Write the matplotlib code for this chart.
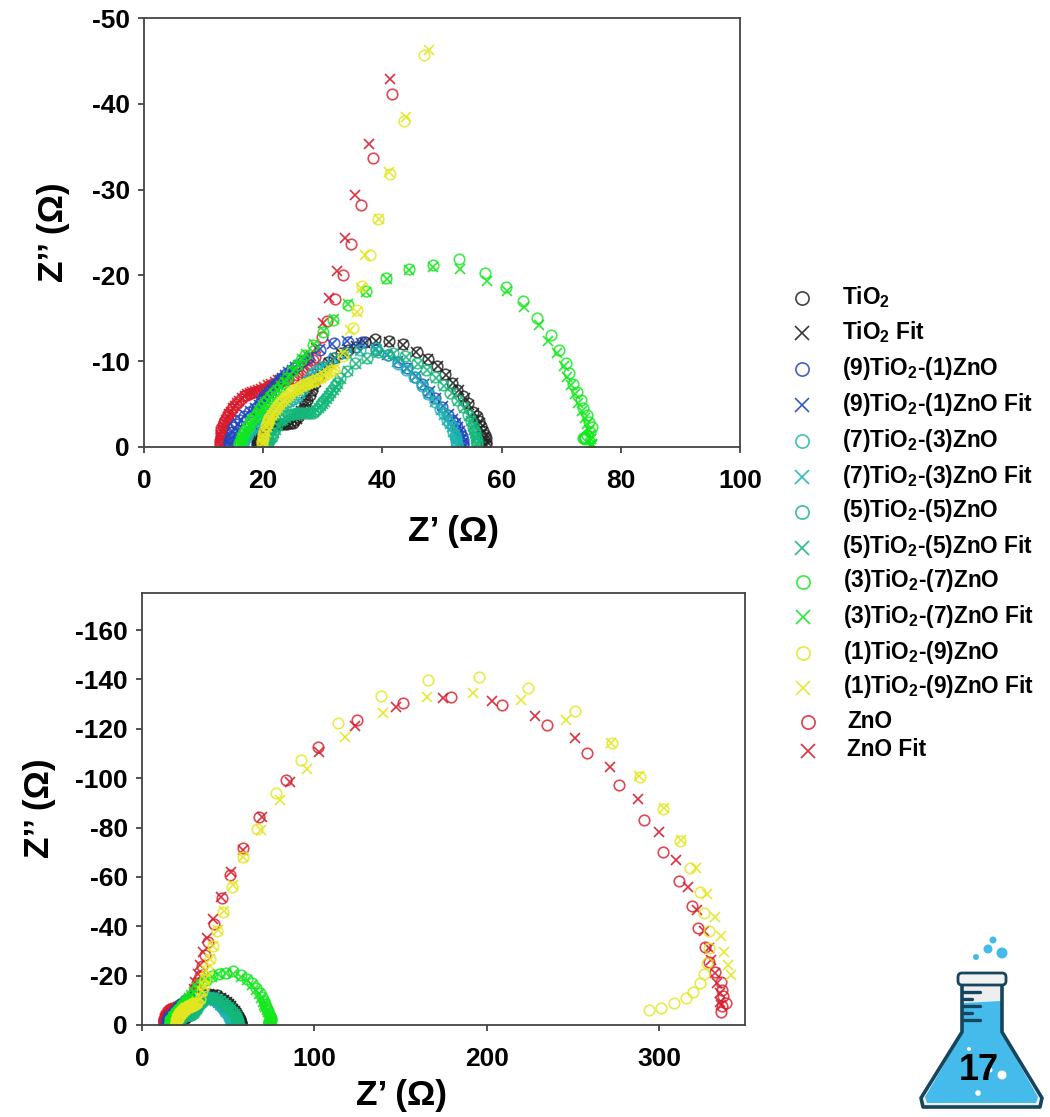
import matplotlib
matplotlib.use("Agg")
import matplotlib.pyplot as plt
from matplotlib.patches import Circle, FancyBboxPatch, Polygon

plt.rcParams['font.family'] = ['Liberation Sans', 'DejaVu Sans']
plt.rcParams['font.weight'] = 'bold'
plt.rcParams['axes.unicode_minus'] = False
plt.rcParams['mathtext.fontset'] = 'custom'
plt.rcParams['mathtext.bf'] = 'Liberation Sans:bold'
plt.rcParams['mathtext.rm'] = 'Liberation Sans:bold'

# valori: coppie (Z', -Z'') in ohm
tio2 = [(18.9, 0.2), (18.9, 0.5), (19.0, 0.8), (19.1, 1.1), (19.3, 1.4), (19.6, 1.6), (19.9, 1.9), (20.3, 2.1), (20.7, 2.3), (21.1, 2.4), (21.5, 2.5), (22.0, 2.6), (22.5, 2.6), (23.0, 2.7), (23.5, 2.7), (24.0, 2.7), (24.5, 2.8), (25.0, 2.8), (25.4, 3.1), (25.8, 3.5), (26.2, 4.0), (26.6, 4.4), (27.0, 5.0), (27.4, 5.5), (27.8, 6.1), (28.2, 6.7), (28.6, 7.3), (29.2, 8.2), (30.0, 9.3), (30.9, 9.9), (31.9, 10.4), (33.0, 10.9), (34.2, 11.3), (35.5, 11.7), (37.0, 12.2), (38.8, 12.6), (41.1, 12.3), (43.5, 12.0), (45.8, 11.1), (47.7, 10.3), (49.2, 9.4), (50.5, 8.5), (51.6, 7.5), (52.6, 6.6), (53.5, 5.9), (54.4, 5.1), (55.2, 4.1), (55.8, 3.6), (56.2, 3.0), (56.6, 2.4), (56.9, 1.9), (57.2, 1.4), (57.4, 1.0), (57.4, 0.6), (57.3, 0.3)]
tio2_fit = [(19.0, 0.1), (19.0, 0.4), (19.1, 0.7), (19.2, 1.0), (19.4, 1.3), (19.7, 1.6), (20.0, 1.8), (20.4, 2.0), (20.8, 2.2), (21.2, 2.4), (21.7, 2.5), (22.2, 2.6), (22.7, 2.6), (23.2, 2.6), (23.7, 2.7), (24.2, 2.7), (24.7, 2.8), (25.2, 3.0), (25.6, 3.3), (26.0, 3.7), (26.4, 4.2), (26.8, 4.7), (27.2, 5.2), (27.6, 5.8), (28.0, 6.4), (28.4, 7.0), (28.8, 7.6), (29.5, 8.5), (30.2, 9.2), (31.1, 9.8), (32.0, 10.4), (33.1, 10.9), (34.3, 11.4), (35.6, 11.8), (37.1, 12.1), (38.9, 12.4), (41.1, 12.2), (43.4, 11.9), (45.7, 11.1), (47.6, 10.3), (49.3, 9.4), (50.6, 8.4), (51.8, 7.5), (52.9, 6.6), (53.8, 5.7), (54.6, 4.9), (55.4, 4.0), (55.9, 3.4), (56.3, 2.8), (56.6, 2.2), (56.9, 1.7), (57.1, 1.2), (57.2, 0.8), (57.2, 0.4), (57.2, 0.1)]

znt91 = [(14.3, 0.3), (14.3, 0.6), (14.4, 0.9), (14.6, 1.2), (14.8, 1.8), (15.0, 2.3), (15.5, 2.7), (16.1, 3.1), (16.8, 3.6), (17.6, 4.1), (18.4, 4.4), (19.0, 4.7), (19.4, 5.1), (19.8, 5.5), (20.2, 5.9), (20.7, 6.2), (21.2, 6.6), (21.7, 7.0), (22.1, 7.3), (22.5, 7.6), (22.9, 7.9), (23.3, 8.2), (23.9, 8.5), (24.5, 8.8), (25.1, 9.2), (25.7, 9.5), (26.6, 10.0), (27.5, 10.4), (29.5, 11.3), (31.8, 12.1), (34.2, 12.2), (36.5, 12.2), (39.0, 11.3), (40.9, 10.7), (42.7, 9.9), (44.1, 9.2), (45.5, 8.2), (46.6, 7.4), (47.7, 6.4), (48.8, 5.7), (50.0, 4.7), (51.0, 3.7), (51.6, 3.2), (52.2, 2.8), (52.6, 2.3), (53.0, 1.8), (53.3, 1.3), (53.5, 0.8), (53.5, 0.5), (53.5, 0.2)]
znt91_fit = [(14.4, 0.2), (14.4, 0.5), (14.5, 0.8), (14.7, 1.2), (14.9, 1.7), (15.2, 2.2), (15.7, 2.7), (16.3, 3.2), (17.0, 3.7), (17.8, 4.2), (18.6, 4.5), (19.3, 4.9), (19.7, 5.3), (20.1, 5.6), (20.5, 6.0), (21.0, 6.3), (21.5, 6.7), (22.0, 7.1), (22.4, 7.4), (22.8, 7.8), (23.2, 8.1), (23.7, 8.4), (24.2, 8.7), (24.8, 9.0), (25.4, 9.3), (26.0, 9.6), (26.8, 10.1), (27.7, 10.5), (29.6, 11.4), (31.6, 12.0), (34.0, 12.3), (36.4, 12.1), (38.9, 11.4), (40.8, 10.7), (42.6, 10.0), (44.2, 9.2), (45.7, 8.3), (46.9, 7.4), (48.0, 6.5), (49.0, 5.7), (50.2, 4.8), (51.2, 3.8), (51.8, 3.3), (52.3, 2.8), (52.7, 2.3), (53.0, 1.9), (53.2, 1.4), (53.4, 0.9), (53.5, 0.5), (53.5, 0.1)]

znt73 = [(16.6, 0.3), (16.6, 0.6), (16.8, 0.9), (17.0, 1.2), (17.2, 1.4), (17.5, 1.7), (17.8, 1.9), (18.2, 2.1), (18.6, 2.3), (19.0, 2.6), (19.3, 2.9), (19.7, 3.2), (20.0, 3.4), (20.4, 3.6), (20.8, 3.8), (21.2, 4.0), (21.7, 4.3), (22.2, 4.5), (22.6, 4.7), (23.0, 4.9), (23.5, 5.0), (24.0, 5.2), (24.5, 5.4), (25.0, 5.6), (25.6, 5.8), (26.0, 6.2), (26.5, 6.6), (27.0, 7.1), (27.4, 7.6), (27.9, 8.1), (28.3, 8.6), (29.2, 9.0), (30.0, 9.3), (31.7, 10.4), (33.9, 10.9), (36.2, 11.3), (39.0, 11.5), (40.9, 10.7), (42.7, 9.7), (44.0, 9.0), (45.3, 8.2), (46.7, 7.1), (47.7, 6.2), (48.8, 5.2), (49.7, 4.4), (50.3, 3.8), (50.8, 3.2), (51.2, 2.8), (51.6, 2.4), (51.9, 1.8), (52.1, 1.3), (52.3, 1.0), (52.4, 0.7), (52.5, 0.4), (52.5, 0.2)]
znt73_fit = [(16.7, 0.2), (16.7, 0.5), (16.9, 0.8), (17.1, 1.1), (17.4, 1.4), (17.7, 1.6), (18.0, 1.9), (18.4, 2.1), (18.8, 2.4), (19.2, 2.7), (19.5, 3.0), (19.9, 3.2), (20.2, 3.4), (20.6, 3.7), (21.0, 3.9), (21.4, 4.1), (21.9, 4.3), (22.4, 4.6), (22.8, 4.8), (23.3, 5.0), (23.8, 5.1), (24.3, 5.3), (24.8, 5.5), (25.3, 5.7), (25.8, 5.9), (26.2, 6.3), (26.7, 6.8), (27.2, 7.3), (27.6, 7.7), (28.1, 8.2), (28.5, 8.6), (29.4, 9.1), (30.2, 9.4), (31.8, 10.3), (34.0, 10.8), (36.3, 11.2), (38.9, 11.4), (40.8, 10.8), (42.5, 9.9), (44.1, 9.1), (45.5, 8.2), (46.8, 7.2), (47.9, 6.2), (48.9, 5.2), (49.9, 4.3), (50.4, 3.7), (50.9, 3.2), (51.3, 2.7), (51.6, 2.3), (51.9, 1.8), (52.1, 1.4), (52.3, 1.0), (52.4, 0.7), (52.5, 0.4), (52.5, 0.1)]

znt55 = [(20.7, 0.2), (20.8, 0.5), (20.9, 0.7), (21.1, 1.0), (21.4, 1.2), (21.6, 1.6), (21.9, 2.1), (22.3, 2.6), (22.8, 3.1), (23.2, 3.3), (23.7, 3.5), (24.2, 3.7), (24.6, 3.8), (25.1, 3.9), (25.6, 4.0), (26.0, 4.0), (26.5, 4.0), (27.0, 4.0), (27.5, 4.0), (27.9, 4.0), (28.3, 4.0), (28.7, 4.2), (29.1, 4.4), (29.5, 4.8), (29.8, 5.1), (30.1, 5.4), (30.5, 5.7), (30.8, 6.0), (31.2, 6.3), (31.6, 6.7), (32.0, 7.1), (32.4, 7.5), (32.9, 8.0), (34.1, 8.9), (35.4, 9.8), (37.4, 10.4), (39.3, 11.1), (41.8, 10.9), (43.8, 10.6), (45.8, 9.8), (47.3, 9.0), (48.8, 8.2), (50.2, 7.2), (51.3, 6.3), (52.5, 5.5), (53.5, 4.7), (54.4, 3.7), (54.8, 3.0), (55.2, 2.3), (55.4, 2.0), (55.6, 1.7), (55.7, 1.2), (55.8, 0.8), (55.8, 0.5), (55.8, 0.3)]
znt55_fit = [(20.8, 0.1), (20.9, 0.4), (21.0, 0.6), (21.2, 0.9), (21.5, 1.2), (21.8, 1.6), (22.1, 2.0), (22.5, 2.5), (23.0, 3.0), (23.4, 3.2), (23.9, 3.4), (24.3, 3.6), (24.8, 3.7), (25.3, 3.8), (25.8, 3.9), (26.2, 4.0), (26.7, 4.0), (27.1, 4.0), (27.6, 4.0), (28.1, 4.0), (28.5, 4.1), (28.9, 4.3), (29.3, 4.5), (29.7, 4.8), (30.0, 5.0), (30.3, 5.3), (30.7, 5.6), (31.0, 5.9), (31.4, 6.3), (31.8, 6.6), (32.2, 7.0), (32.6, 7.4), (33.1, 7.9), (34.2, 8.8), (35.5, 9.7), (37.4, 10.3), (39.2, 10.9), (41.7, 10.8), (43.9, 10.5), (45.9, 9.7), (47.5, 9.0), (49.0, 8.1), (50.4, 7.1), (51.6, 6.3), (52.7, 5.4), (53.7, 4.6), (54.6, 3.6), (54.9, 3.0), (55.2, 2.4), (55.4, 2.0), (55.6, 1.6), (55.7, 1.2), (55.7, 0.9), (55.8, 0.5), (55.8, 0.2)]

znt37 = [(16.0, 0.2), (16.0, 0.5), (16.2, 0.8), (16.4, 1.2), (16.6, 1.5), (16.9, 1.9), (17.2, 2.3), (17.6, 2.7), (18.0, 3.1), (18.4, 3.5), (18.9, 3.9), (19.3, 4.3), (19.7, 4.7), (20.1, 5.1), (20.6, 5.5), (21.1, 5.9), (21.6, 6.3), (22.2, 6.7), (22.8, 7.0), (23.4, 7.5), (24.0, 8.1), (24.8, 8.8), (25.6, 9.5), (26.3, 10.1), (27.0, 10.7), (28.4, 11.9), (30.0, 13.4), (31.7, 14.8), (34.2, 16.6), (37.2, 18.2), (40.6, 19.7), (44.5, 20.7), (48.5, 21.2), (52.9, 21.9), (57.2, 20.3), (60.7, 18.7), (63.6, 17.0), (66.0, 15.0), (68.3, 13.0), (69.6, 11.3), (70.8, 9.8), (71.3, 8.6), (72.0, 7.4), (72.6, 6.4), (73.3, 5.5), (73.7, 4.5), (74.3, 3.7), (74.7, 2.9), (75.1, 2.3), (74.9, 1.8), (74.4, 1.4), (74.0, 1.2), (73.7, 1.0), (74.0, 0.9), (73.8, 1.1)]
znt37_fit = [(16.1, 0.1), (16.1, 0.4), (16.3, 0.7), (16.5, 1.1), (16.8, 1.4), (17.1, 1.8), (17.4, 2.2), (17.8, 2.6), (18.2, 3.1), (18.6, 3.4), (19.1, 3.8), (19.5, 4.2), (19.9, 4.6), (20.3, 5.0), (20.8, 5.4), (21.3, 5.8), (21.8, 6.2), (22.4, 6.6), (23.0, 7.1), (23.6, 7.6), (24.2, 8.2), (25.0, 8.9), (25.8, 9.6), (26.5, 10.2), (27.2, 10.8), (28.6, 12.0), (30.2, 13.5), (31.9, 14.9), (34.2, 16.7), (37.3, 18.1), (40.7, 19.6), (44.4, 20.6), (48.5, 21.0), (53.1, 20.7), (57.5, 19.4), (60.9, 18.2), (63.8, 16.3), (66.2, 14.2), (67.8, 12.4), (69.3, 10.9), (70.4, 9.4), (71.0, 8.2), (71.6, 7.2), (72.3, 6.2), (72.9, 5.1), (73.5, 4.2), (74.0, 3.4), (74.4, 2.7), (74.7, 2.0), (74.9, 1.4), (75.0, 0.9), (75.1, 0.4), (74.9, 0.2), (75.0, 0.1), (75.1, 0.2)]

znt19 = [(19.8, 0.4), (19.8, 0.7), (19.9, 1.0), (20.0, 1.4), (20.2, 1.9), (20.4, 2.4), (20.6, 2.8), (20.8, 3.1), (21.0, 3.4), (21.3, 3.7), (21.6, 4.0), (21.9, 4.4), (22.3, 4.7), (22.6, 5.0), (23.0, 5.2), (23.4, 5.5), (23.7, 5.8), (24.1, 6.0), (24.5, 6.3), (24.9, 6.5), (25.4, 6.7), (25.8, 6.9), (26.3, 7.1), (26.8, 7.3), (27.3, 7.4), (27.8, 7.6), (28.3, 7.7), (28.9, 7.8), (29.5, 8.0), (30.0, 8.3), (30.6, 8.5), (31.2, 8.8), (31.8, 9.0), (33.4, 10.6), (35.0, 13.9), (35.8, 16.0), (36.6, 18.8), (37.9, 22.4), (39.3, 26.6), (41.2, 31.8), (43.7, 38.0), (47.0, 45.7), (52.0, 55.9), (58.4, 68.0), (66.5, 79.4), (77.5, 93.9), (92.5, 107.3), (113.9, 122.3), (138.7, 133.2), (165.9, 139.7), (195.4, 140.9), (224.3, 136.4), (251.4, 127.1), (272.8, 114.2), (289.0, 100.4), (302.3, 87.4), (312.0, 74.5), (318.0, 63.6), (323.7, 53.8), (326.4, 45.3), (328.9, 38.0), (329.0, 31.0), (327.8, 25.0), (326.2, 20.6), (323.6, 17.0), (319.8, 13.4), (315.7, 10.9), (308.6, 8.9), (301.4, 6.9), (294.2, 6.0)]
znt19_fit = [(19.9, 0.3), (19.9, 0.6), (20.0, 0.9), (20.2, 1.3), (20.4, 1.8), (20.6, 2.3), (20.8, 2.7), (21.0, 3.0), (21.2, 3.3), (21.5, 3.7), (21.8, 4.0), (22.1, 4.3), (22.5, 4.6), (22.8, 4.9), (23.2, 5.2), (23.6, 5.4), (23.9, 5.7), (24.3, 6.0), (24.7, 6.2), (25.1, 6.4), (25.6, 6.7), (26.0, 6.8), (26.5, 7.0), (27.0, 7.2), (27.5, 7.3), (28.0, 7.5), (28.5, 7.6), (29.1, 7.9), (29.7, 8.1), (30.2, 8.4), (30.8, 8.6), (31.4, 9.0), (32.0, 9.2), (33.4, 10.9), (34.6, 13.6), (35.7, 15.7), (36.4, 18.5), (37.0, 22.4), (39.4, 26.6), (41.1, 32.0), (44.0, 38.5), (47.8, 46.3), (52.6, 56.7), (58.4, 68.0), (68.8, 79.0), (80.3, 91.0), (96.0, 103.6), (117.9, 116.6), (139.9, 126.3), (165.3, 132.8), (191.9, 134.4), (219.7, 131.6), (246.2, 123.5), (272.3, 114.2), (288.5, 100.8), (302.9, 87.9), (312.9, 74.9), (321.4, 63.6), (327.8, 53.0), (332.4, 43.7), (335.8, 36.0), (338.1, 29.6), (339.9, 24.3), (341.6, 20.2)]

zno = [(12.8, 0.2), (12.8, 0.5), (12.8, 0.8), (12.9, 1.2), (12.9, 1.5), (13.0, 1.9), (13.0, 2.2), (13.2, 2.6), (13.4, 2.9), (13.6, 3.2), (13.9, 3.5), (14.1, 3.8), (14.4, 4.1), (14.7, 4.4), (15.0, 4.7), (15.4, 5.0), (15.8, 5.3), (16.2, 5.6), (16.7, 5.9), (17.1, 6.1), (17.6, 6.2), (18.0, 6.3), (18.5, 6.4), (19.0, 6.5), (19.5, 6.6), (20.0, 6.8), (20.6, 7.0), (21.1, 7.2), (21.7, 7.4), (22.3, 7.5), (22.9, 7.6), (23.5, 7.8), (24.2, 7.9), (25.0, 8.1), (25.7, 8.4), (26.5, 8.7), (27.3, 9.0), (27.9, 9.6), (28.4, 10.1), (28.7, 10.5), (29.9, 12.8), (30.7, 14.7), (32.0, 17.2), (33.4, 20.0), (34.7, 23.7), (36.4, 28.2), (38.4, 33.7), (41.6, 41.1), (46.2, 51.4), (50.9, 60.7), (58.4, 71.7), (68.2, 84.2), (83.8, 99.2), (102.3, 112.5), (124.9, 123.5), (151.4, 130.4), (179.2, 133.0), (208.7, 129.6), (235.3, 121.5), (258.4, 110.0), (276.9, 97.2), (291.3, 83.0), (302.3, 70.0), (311.6, 58.3), (319.0, 48.2), (322.5, 39.3), (326.6, 31.6), (328.9, 25.5), (332.4, 21.5), (335.8, 17.4), (336.4, 14.2), (337.0, 11.7), (338.7, 8.9), (336.5, 7.5), (335.8, 5.3)]
zno_fit = [(12.9, 0.1), (12.9, 0.4), (12.9, 0.7), (13.0, 1.0), (13.0, 1.4), (13.1, 1.8), (13.2, 2.1), (13.4, 2.5), (13.6, 2.8), (13.8, 3.1), (14.1, 3.5), (14.3, 3.8), (14.6, 4.1), (14.9, 4.5), (15.2, 4.8), (15.6, 5.1), (16.0, 5.4), (16.4, 5.7), (16.9, 6.0), (17.3, 6.2), (17.8, 6.3), (18.2, 6.4), (18.7, 6.5), (19.2, 6.7), (19.7, 6.8), (20.2, 7.0), (20.8, 7.2), (21.3, 7.4), (21.9, 7.6), (22.5, 7.8), (23.1, 7.9), (23.7, 8.1), (24.4, 8.2), (25.1, 8.4), (25.9, 8.7), (26.5, 9.1), (27.0, 9.5), (27.6, 10.1), (28.1, 10.6), (28.9, 11.5), (30.0, 14.5), (31.0, 17.4), (32.4, 20.5), (33.7, 24.4), (35.4, 29.4), (37.8, 35.3), (41.3, 42.9), (46.0, 52.0), (51.5, 62.0), (58.4, 70.9), (69.4, 84.2), (86.0, 98.5), (102.9, 110.5), (123.7, 121.0), (147.4, 129.0), (174.6, 132.4), (202.9, 131.2), (228.3, 125.0), (251.4, 116.2), (271.7, 104.5), (287.9, 91.5), (300.0, 78.0), (309.8, 66.8), (316.8, 55.9), (322.0, 46.6), (326.0, 38.0), (329.0, 31.2), (330.0, 26.3), (332.4, 21.0), (334.0, 17.0), (335.2, 13.0), (335.2, 9.3), (336.0, 8.0)]

labels = [r"TiO$\mathbf{_2}$", r"TiO$\mathbf{_2}$ Fit",
          r"(9)TiO$\mathbf{_2}$-(1)ZnO", r"(9)TiO$\mathbf{_2}$-(1)ZnO Fit",
          r"(7)TiO$\mathbf{_2}$-(3)ZnO", r"(7)TiO$\mathbf{_2}$-(3)ZnO Fit",
          r"(5)TiO$\mathbf{_2}$-(5)ZnO", r"(5)TiO$\mathbf{_2}$-(5)ZnO Fit",
          r"(3)TiO$\mathbf{_2}$-(7)ZnO", r"(3)TiO$\mathbf{_2}$-(7)ZnO Fit",
          r"(1)TiO$\mathbf{_2}$-(9)ZnO", r"(1)TiO$\mathbf{_2}$-(9)ZnO Fit",
          "ZnO", "ZnO Fit"]
colors = ["#222222", "#1F45C0", "#1DB5B0", "#14B87A", "#12E81C", "#E3E620", "#D81B2C"]

top_xticks = [0, 20, 40, 60, 80, 100]
top_yticks = [0, -10, -20, -30, -40, -50]
bot_xticks = [0, 100, 200, 300]
bot_yticks = [0, -20, -40, -60, -80, -100, -120, -140, -160]

# ordine di disegno: (colore, misura, fit)
series = [
    (colors[6], zno, zno_fit),
    (colors[0], tio2, tio2_fit),
    (colors[1], znt91, znt91_fit),
    (colors[2], znt73, znt73_fit),
    (colors[3], znt55, znt55_fit),
    (colors[4], znt37, znt37_fit),
    (colors[5], znt19, znt19_fit),
]

W, H = 1050, 1117
fig = plt.figure(figsize=(W / 100, H / 100), dpi=100)


def box(left, top, right, bottom):
    return [left / W, 1 - bottom / H, (right - left) / W, (bottom - top) / H]


def draw_panel(ax, xlim, ylim, xticks, yticks):
    for col, meas, fit in series:
        ax.plot([p[0] for p in meas], [-p[1] for p in meas], 'o', mfc='none', mec=col, ms=7.6, mew=1.2, alpha=0.8)
        ax.plot([p[0] for p in fit], [-p[1] for p in fit], 'x', color=col, ms=7.6, mew=1.2, alpha=0.9)
    ax.set_xlim(xlim)
    ax.set_ylim(ylim)
    ax.set_xticks(xticks)
    ax.set_yticks(yticks)
    ax.tick_params(length=4, width=1.3, color='#444444', labelsize=19)
    ax.tick_params(axis='x', pad=12)
    ax.tick_params(axis='y', pad=6)
    for s in ax.spines.values():
        s.set_color('#444444')
        s.set_linewidth(1.3)


ax1 = fig.add_axes(box(144, 18, 740, 447))
draw_panel(ax1, (0, 100), (0, -50), top_xticks, top_yticks)
ax2 = fig.add_axes(box(142, 593, 745, 1025))
draw_panel(ax2, (0, 350), (0, -175), bot_xticks, bot_yticks)

# etichette assi
fig.text(453 / W, 1 - 532 / H, "Z’ (Ω)", fontsize=25.5, ha='center', va='center')
fig.text(53 / W, 1 - 232 / H, "Z’’ (Ω)", fontsize=25.5, ha='center', va='center', rotation=90)
fig.text(402 / W, 1 - 1096 / H, "Z’ (Ω)", fontsize=25.5, ha='center', va='center')
fig.text(40 / W, 1 - 808 / H, "Z’’ (Ω)", fontsize=25.5, ha='center', va='center', rotation=90)

# sovrapposizione in pixel per legenda e beuta
over = fig.add_axes([0, 0, 1, 1], facecolor='none')
over.set_xlim(0, W)
over.set_ylim(H, 0)
over.axis('off')

leg_y = [298, 333, 369, 405, 441, 477, 512, 548, 582, 617, 653, 688, 722, 751]
leg_mx = [802] * 8 + [803] * 4 + [808] * 2
leg_tx = [842] * 8 + [843] * 4 + [847] * 2
leg_col = [c for c in colors for _ in (0, 1)]
for i, lab in enumerate(labels):
    if i % 2 == 0:
        over.plot(leg_mx[i], leg_y[i], 'o', mfc='none', mec=leg_col[i], ms=9.5, mew=1.2, alpha=0.85)
    else:
        over.plot(leg_mx[i], leg_y[i], 'x', color=leg_col[i], ms=9.5, mew=1.2, alpha=0.9)
    over.text(leg_tx[i], leg_y[i] - 1, lab, fontsize=16.3, va='center', ha='left')

# beuta
blue = '#45BBEB'
dark = '#17455E'
body = [(962, 984), (1002, 984), (1002, 1032), (1042, 1098), (1040, 1107), (923, 1107), (921, 1098), (962, 1032)]
over.add_patch(Polygon(body, closed=True, fc='#EEEEEE', ec='none'))
liquid = [(963, 1003), (1001, 1001), (1001, 1032), (1038, 1097), (1036, 1103), (927, 1103), (925, 1097), (963, 1032)]
over.add_patch(Polygon(liquid, closed=True, fc=blue, ec='none'))
over.add_patch(Polygon(body, closed=True, fc='none', ec=dark, lw=2.6, joinstyle='round'))
over.add_patch(FancyBboxPatch((960, 975), 44, 8, boxstyle='round,pad=2,rounding_size=4', fc='#F2F2F2', ec=dark, lw=2))
for y0, x1 in [(992, 980), (999, 972), (1006, 980), (1013, 972), (1020, 980)]:
    over.plot([962, x1], [y0, y0], color=dark, lw=2.4, solid_capstyle='round')
for cx, cy, r, col in [(993, 940, 3.5, blue), (988, 949, 4.5, blue), (1002, 953, 5.5, blue), (976, 957, 3, blue),
                       (969, 1049, 2, 'white'), (1002, 1075, 4.5, 'white'), (978, 1093, 2.8, 'white'), (990, 1070, 2.5, 'white')]:
    over.add_patch(Circle((cx, cy), r, fc=col, ec='none'))
over.text(979, 1071, "17", fontsize=26, fontweight='bold', color='black', ha='center', va='center')

fig.savefig("out.png", dpi=100)
